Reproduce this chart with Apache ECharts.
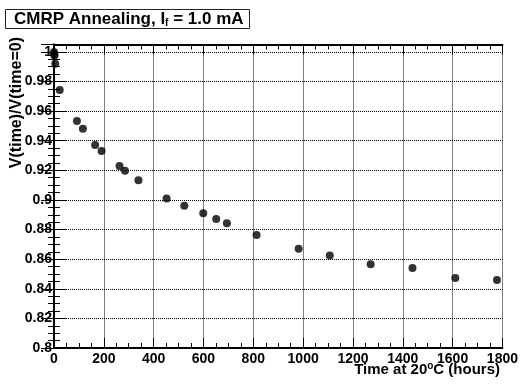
<!DOCTYPE html>
<html>
<head>
<meta charset="utf-8">
<script src="https://cdn.jsdelivr.net/npm/echarts@6/dist/echarts.min.js"></script>
<style>
  html, body { margin: 0; padding: 0; background: #fff; }
  #chart { width: 521px; height: 387px; }
</style>
</head>
<body>
<div id="chart"></div>
<script>
// Annealing time (hours at 20 C) and normalised voltage V(t)/V(0)
const hours = [0, 1, 2, 5, 23, 92, 116, 165, 191, 263, 285, 339, 452, 523, 599, 651, 694, 813, 982, 1107, 1271, 1439, 1611, 1778];
const ratio = [1.000, 0.9985, 0.9975, 0.992, 0.9742, 0.9533, 0.9481, 0.9371, 0.9330, 0.9230, 0.9198, 0.9133, 0.9009, 0.8960, 0.8910, 0.8872, 0.8843, 0.8764, 0.8670, 0.8624, 0.8566, 0.8540, 0.8472, 0.8459];

const xTicks = { min: 0, max: 1800, interval: 200 };
const yTicks = { min: 0.8, max: 1.005, interval: 0.02 };

const FONT = '"Liberation Sans", Arial, Helvetica, sans-serif';
const points = hours.map((h, i) => [h, ratio[i]]);

const chart = echarts.init(document.getElementById('chart'), null, { renderer: 'canvas' });

const frameLine = { show: true, lineStyle: { color: '#000', width: 2 } };
const gridDots = { show: true, lineStyle: { color: '#000', width: 1, type: [1, 1] } };

chart.setOption({
  animation: false,
  backgroundColor: '#fff',
  title: {
    text: '{b|CMRP Annealing, I}{s|f}{b| = 1.0 mA}',
    left: 5,
    top: 9,
    padding: [1, 6, 1, 9],
    borderWidth: 1,
    borderColor: '#222',
    backgroundColor: '#fff',
    textStyle: {
      rich: {
        b: { fontFamily: FONT, fontWeight: 'bold', fontSize: 17, color: '#000', lineHeight: 18 },
        s: { fontFamily: FONT, fontWeight: 'bold', fontSize: 10, color: '#000', lineHeight: 18, verticalAlign: 'bottom', padding: [6, 0, 0, 0] }
      }
    }
  },
  grid: { left: 54, right: 16, top: 44.5, bottom: 39, containLabel: false },
  xAxis: [
    {
      type: 'value', min: xTicks.min, max: xTicks.max, interval: xTicks.interval,
      position: 'bottom',
      axisLine: frameLine,
      axisTick: { show: true, inside: true, length: 10, lineStyle: { color: '#000', width: 1 } },
      minorTick: { show: true, splitNumber: 4, length: 5, lineStyle: { color: '#000', width: 1 } },
      splitLine: gridDots,
      axisLabel: { margin: 4, formatter: v => String(v), fontFamily: FONT, fontWeight: 'bold', fontSize: 14, color: '#000' }
    },
    {
      type: 'value', min: xTicks.min, max: xTicks.max, interval: xTicks.interval,
      position: 'top',
      axisLine: frameLine,
      axisTick: { show: true, inside: true, length: 10, lineStyle: { color: '#000', width: 1 } },
      minorTick: { show: true, splitNumber: 4, length: 5, lineStyle: { color: '#000', width: 1 } },
      splitLine: { show: false },
      axisLabel: { show: false }
    }
  ],
  yAxis: [
    {
      type: 'value', min: yTicks.min, max: yTicks.max, interval: yTicks.interval,
      position: 'left',
      axisLine: frameLine,
      axisTick: { show: true, inside: true, length: 13, lineStyle: { color: '#000', width: 1 } },
      minorTick: { show: true, splitNumber: 4, length: 6, lineStyle: { color: '#000', width: 1 } },
      splitLine: gridDots,
      axisLabel: { margin: 2, showMaxLabel: false, fontFamily: FONT, fontWeight: 'bold', fontSize: 14, color: '#000' }
    },
    {
      type: 'value', min: yTicks.min, max: yTicks.max, interval: yTicks.interval,
      position: 'right',
      axisLine: frameLine,
      axisTick: { show: true, inside: true, length: 13, lineStyle: { color: '#000', width: 1 } },
      minorTick: { show: true, splitNumber: 4, length: 6, lineStyle: { color: '#000', width: 1 } },
      splitLine: { show: false },
      axisLabel: { show: false }
    }
  ],
  graphic: [
    {
      type: 'text',
      left: 9, top: 37,
      rotation: Math.PI / 2,
      style: {
        text: 'V(time)/V(time=0)',
        font: 'bold 16px ' + FONT,
        fill: '#000'
      }
    },
    {
      type: 'text',
      right: 21, top: 361,
      style: {
        text: '{t|Time at 20}{o|o}{t|C (hours)}',
        rich: {
          t: { font: 'bold 15px ' + FONT, fill: '#000', lineHeight: 18 },
          o: { font: 'bold 10px ' + FONT, fill: '#000', lineHeight: 18, verticalAlign: 'top', padding: [0, 0, 7, 0] }
        }
      }
    }
  ],
  series: [
    {
      type: 'scatter',
      xAxisIndex: 0,
      yAxisIndex: 0,
      data: points,
      symbol: 'circle',
      symbolSize: 8,
      clip: false,
      itemStyle: { color: '#000' }
    }
  ]
});
</script>
</body>
</html>
